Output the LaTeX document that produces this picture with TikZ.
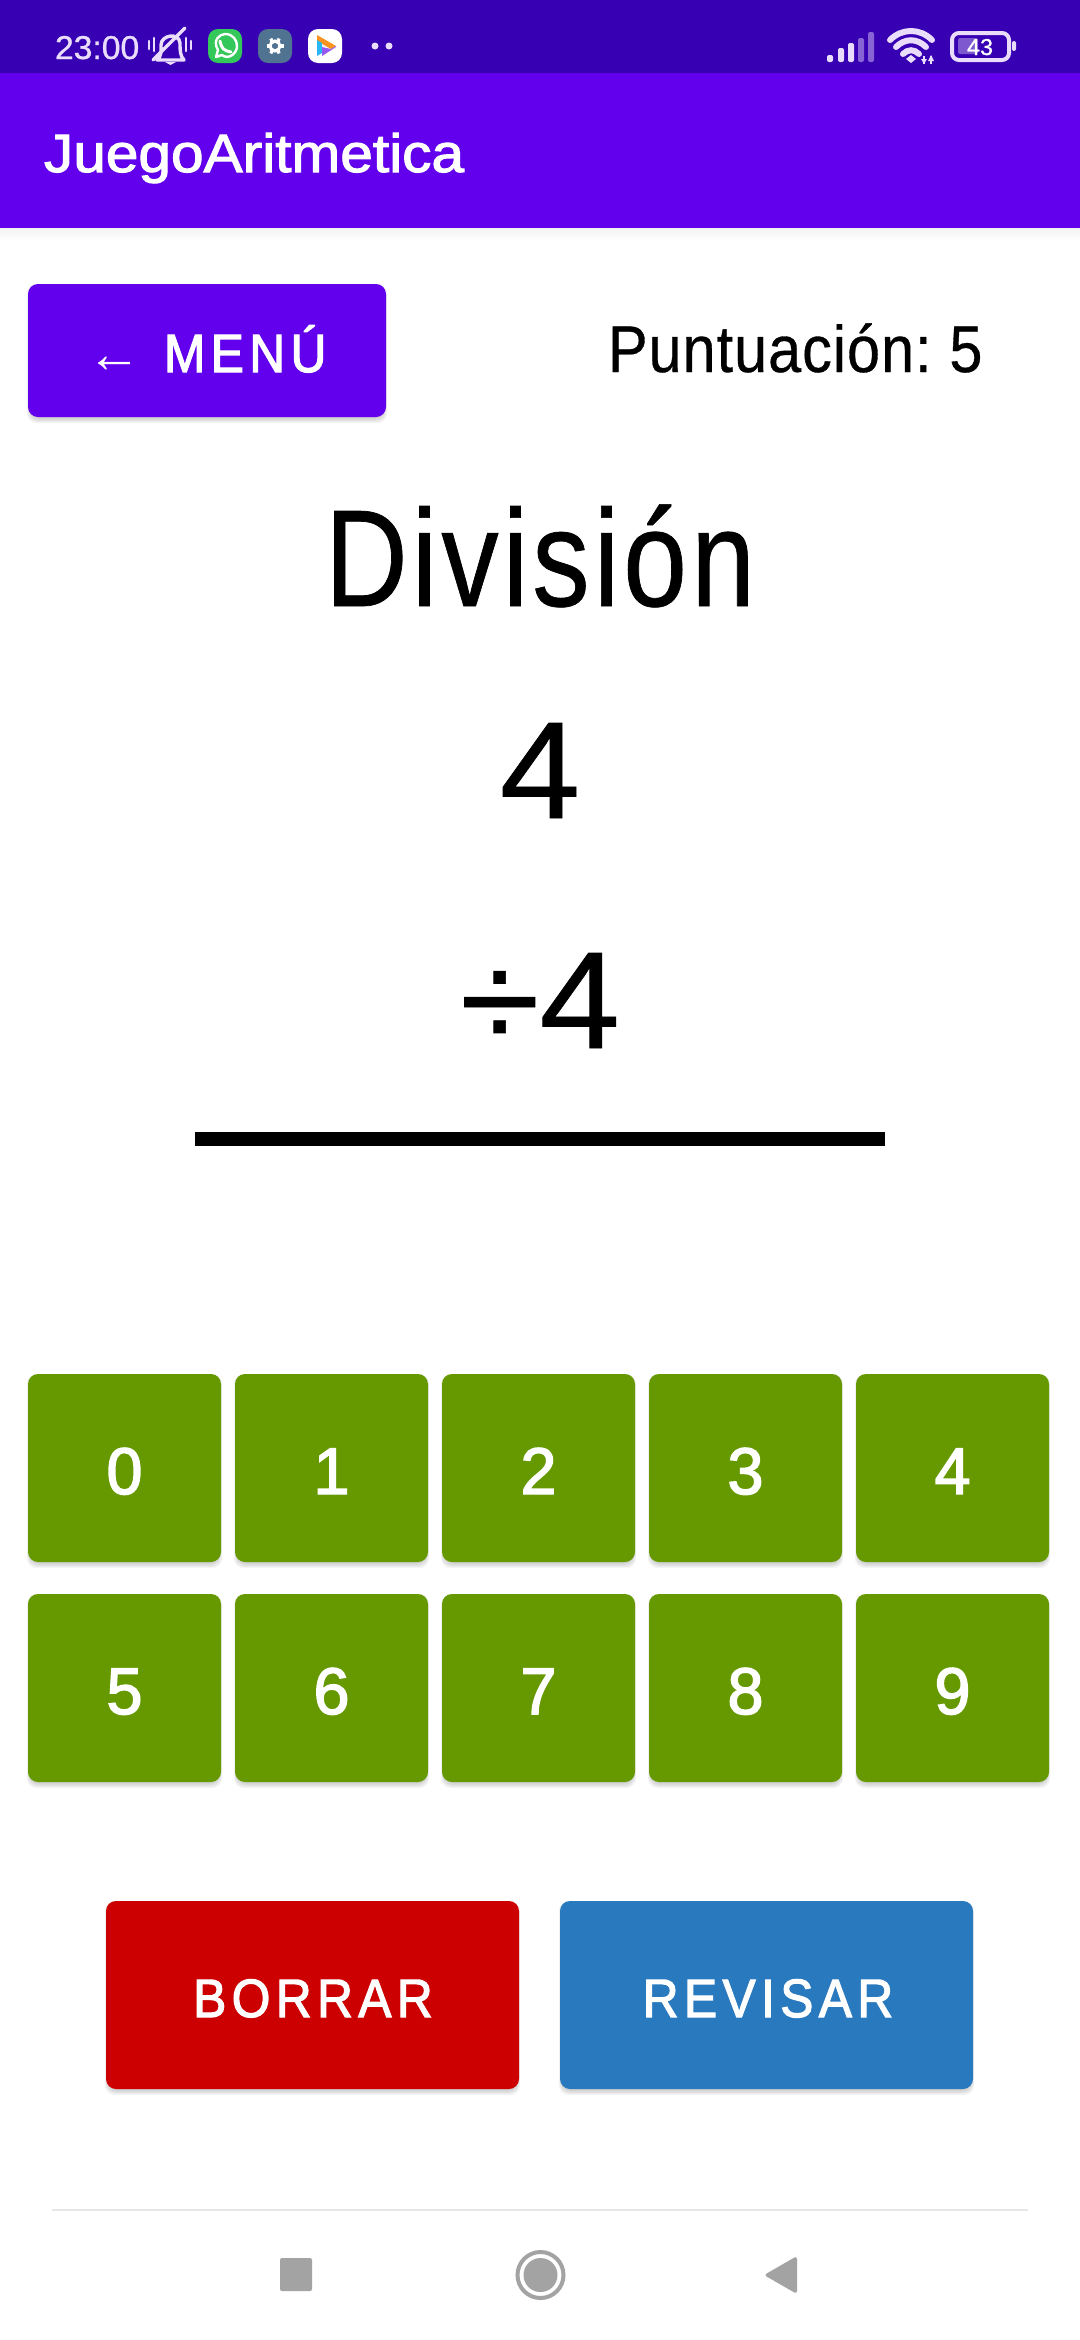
\documentclass[tikz,border=0pt]{standalone}
\usepackage{fontspec}
\setmainfont{Liberation Sans}
\newfontfamily\fcond[FakeStretch=0.83,FakeBold=0.5,LetterSpace=3]{Liberation Sans}
\newfontfamily\fscore[FakeStretch=0.9,FakeBold=0.5,LetterSpace=1.5]{Liberation Sans}
\newfontfamily\fdig[FakeStretch=1.05,FakeBold=0.5]{Liberation Sans}
\newfontfamily\fbar[FakeBold=2,FakeStretch=1.085]{Liberation Sans}
\newfontfamily\fbtn[FakeBold=2.2,FakeStretch=0.92,LetterSpace=10]{Liberation Sans}
\newfontfamily\farrow[FakeStretch=1]{Liberation Sans}
\newfontfamily\fnum[FakeBold=2.2,FakeStretch=0.98]{Liberation Sans}
\newfontfamily\fstat[FakeStretch=1.02,FakeBold=1]{Liberation Sans}
\definecolor{stat}{HTML}{3700B3}
\definecolor{prim}{HTML}{6200EE}
\definecolor{grn}{HTML}{669900}
\definecolor{redb}{HTML}{CC0000}
\definecolor{blub}{HTML}{2979BF}
\definecolor{ico}{HTML}{E9DDFB}
\definecolor{navg}{HTML}{A3A3A3}
\newcommand\fpx[1]{\fontsize{\fpeval{#1*0.5}pt}{\fpeval{#1*0.6}pt}\selectfont}
\tikzset{
 x=0.5pt,y=-0.5pt,
 txt/.style={inner sep=0pt,outer sep=0pt,anchor=base},
}
% soft shadow then a filled button: x1,y1,x2,y2,colour
\newcommand\uibutton[5]{%
 \foreach \e in {1,...,6}{%
  \fill[black,opacity=0.04,rounded corners=5pt] (#1+3-\e*0.7,#2+6-\e) rectangle (#3-3+\e*0.7,#4-1+\e*1.2);
 }
 \fill[#5,rounded corners=5pt] (#1,#2) rectangle (#3,#4);
}
\begin{document}
\begin{tikzpicture}
\useasboundingbox (0,0) rectangle (1080,2340);
\fill[white] (0,0) rectangle (1080,2340);
% app bar shadow
\foreach \e in {1,...,6}{\fill[black,opacity=0.007] (0,227) rectangle (1080,228+2*\e);}
\fill[stat] (0,0) rectangle (1080,73);
\fill[prim] (0,73) rectangle (1080,228);
% status bar, left
\node[txt,anchor=base west,text=ico] (clock) at (55,59) {\fstat\fpx{33}23:00};
\begin{scope}[draw=ico,line width=1.7pt,line cap=round,line join=round]
 \draw (157,60) .. controls (162,56) and (161,50) .. (161,45) .. controls (161,35) and (179,32) .. (180,43) .. controls (180,50) and (180,56) .. (184,60) -- cycle;
 \draw (185,28) -- (153,60);
 \draw[line width=1.3pt] (149,41) -- (149,49) (154,38) -- (154,51) (186,38) -- (186,51) (191,41) -- (191,49);
 \fill[ico] (165,62) -- (176,62) -- (170.5,65) -- cycle;
\end{scope}
\fill[color={rgb,255:red,52;green,199;blue,89},rounded corners=5pt] (208,29) rectangle (242,63);
\draw[white,line width=1.2pt,line join=round] (216,57) -- (218,50) .. controls (212,40) and (220,34) .. (225,34) .. controls (233,34) and (237,40) .. (237,46) .. controls (237,54) and (228,60) .. (222,55) -- cycle;
\draw[white,line width=1.5pt,line cap=round] (220,41) .. controls (221,48) and (224,51) .. (231,52);
\fill[color={rgb,255:red,79;green,115;blue,145},rounded corners=5pt] (258,29) rectangle (292,63);
\foreach \a in {0,60,...,300}{\draw[white,line width=1.6pt,line cap=butt] (275,46) ++(\a:3) -- ++(\a:5.5);}
\draw[white,line width=1.5pt] (275,46) circle (5);
\fill[white,rounded corners=5pt] (308,29) rectangle (342,63);
\fill[color={rgb,255:red,247;green,147;blue,30}] (317,35) -- (336,46) -- (331,49) -- (317,41) -- cycle;
\fill[color={rgb,255:red,41;green,182;blue,246}] (317,40) -- (322,43) -- (322,53) -- (317,56) -- cycle;
\fill[color={rgb,255:red,150;green,90;blue,240}] (322,47) -- (331,49) -- (336,46) -- (336,47) -- (322,56) -- cycle;
\fill[ico] (375,46) circle (3.5) (389,46) circle (3.5);
% status bar, right
\foreach \xx/\yy in {830/55,841/48,851/43}{\fill[ico,rounded corners=1pt] (\xx-3,\yy) rectangle (\xx+3,62);}
\foreach \xx/\yy in {861/38,871/32}{\fill[ico,opacity=0.45,rounded corners=1pt] (\xx-3,\yy) rectangle (\xx+3,62);}
\begin{scope}[draw=ico,line width=3pt,line cap=round]
 \draw (890,40) .. controls (902,28) and (920,28) .. (932,40);
 \draw (896,47) .. controls (905,38) and (917,38) .. (926,47);
 \draw (903,54) .. controls (908,49) and (914,49) .. (919,54);
\end{scope}
\fill[ico] (911,55) -- (916,59) -- (911,63) -- (906,59) -- cycle;
\draw[ico,line width=1pt] (924,64) -- (924,56) (931,64) -- (931,56);
\fill[ico] (921,59) -- (927,59) -- (924,64) -- cycle (928,61) -- (934,61) -- (931,55) -- cycle;
\draw[ico,line width=2pt,rounded corners=3.5pt] (952,33) rectangle (1009,60);
\fill[ico,opacity=0.4,rounded corners=1pt] (958,38) rectangle (978,54);
\fill[ico,rounded corners=1pt] (1012,41) rectangle (1016,51);
\node[txt,text=white] (batt) at (980,55) {\fstat\fpx{23}43};
% title
\node[txt,anchor=base west,text=white] (title) at (44,172) {\fbar\fpx{54}JuegoAritmetica};
% menu button
\uibutton{28}{284}{386}{417}{prim}
\node[txt,anchor=base west,text=white] (menu) at (87,372) {{\farrow\fpx{54}←}\hspace{11.5pt}\fbtn\fpx{54}MENÚ};
\node[txt,anchor=base west,text=black] (score) at (608,372) {\fscore\fpx{66}\spaceskip=6pt\relax Puntuación: 5};
% exercise
\node[txt,text=black] (op) at (540,606) {\fcond\fpx{138}División};
\node[txt,text=black] (n1) at (540,818) {\fdig\fpx{138}4};
\node[txt,text=black] (n2) at (540,1048) {\fdig\fpx{138}÷4};
\fill[black] (195,1132) rectangle (885,1146);
% digits
\foreach \d [count=\i from 0] in {0,1,2,3,4}{
 \pgfmathsetmacro\xa{28+207*\i}
 \uibutton{\xa}{1374}{\xa+193}{1562}{grn}
 \node[txt,text=white] (d\d) at (\xa+96.5,1494) {\fnum\fpx{66}\d};
}
\foreach \d [count=\i from 0] in {5,6,7,8,9}{
 \pgfmathsetmacro\xa{28+207*\i}
 \uibutton{\xa}{1594}{\xa+193}{1782}{grn}
 \node[txt,text=white] (d\d) at (\xa+96.5,1714) {\fnum\fpx{66}\d};
}
% actions
\uibutton{106}{1901}{519}{2089}{redb}
\uibutton{560}{1901}{973}{2089}{blub}
\node[txt,text=white] (borrar) at (313,2017) {\fbtn\fpx{54}BORRAR};
\node[txt,text=white] (revisar) at (768,2017) {\fbtn\fpx{54}REVISAR};
% navigation
\draw[color={rgb,255:red,230;green,230;blue,230},line width=1pt] (52,2210) -- (1028,2210);
\fill[navg,rounded corners=1pt] (280,2258) rectangle (312,2291);
\draw[navg,line width=2pt] (540.5,2275) circle (23);
\fill[navg] (540.5,2275) circle (17);
\fill[navg,rounded corners=1.5pt] (797,2256) -- (797,2294) -- (764,2275) -- cycle;
\end{tikzpicture}
\end{document}
